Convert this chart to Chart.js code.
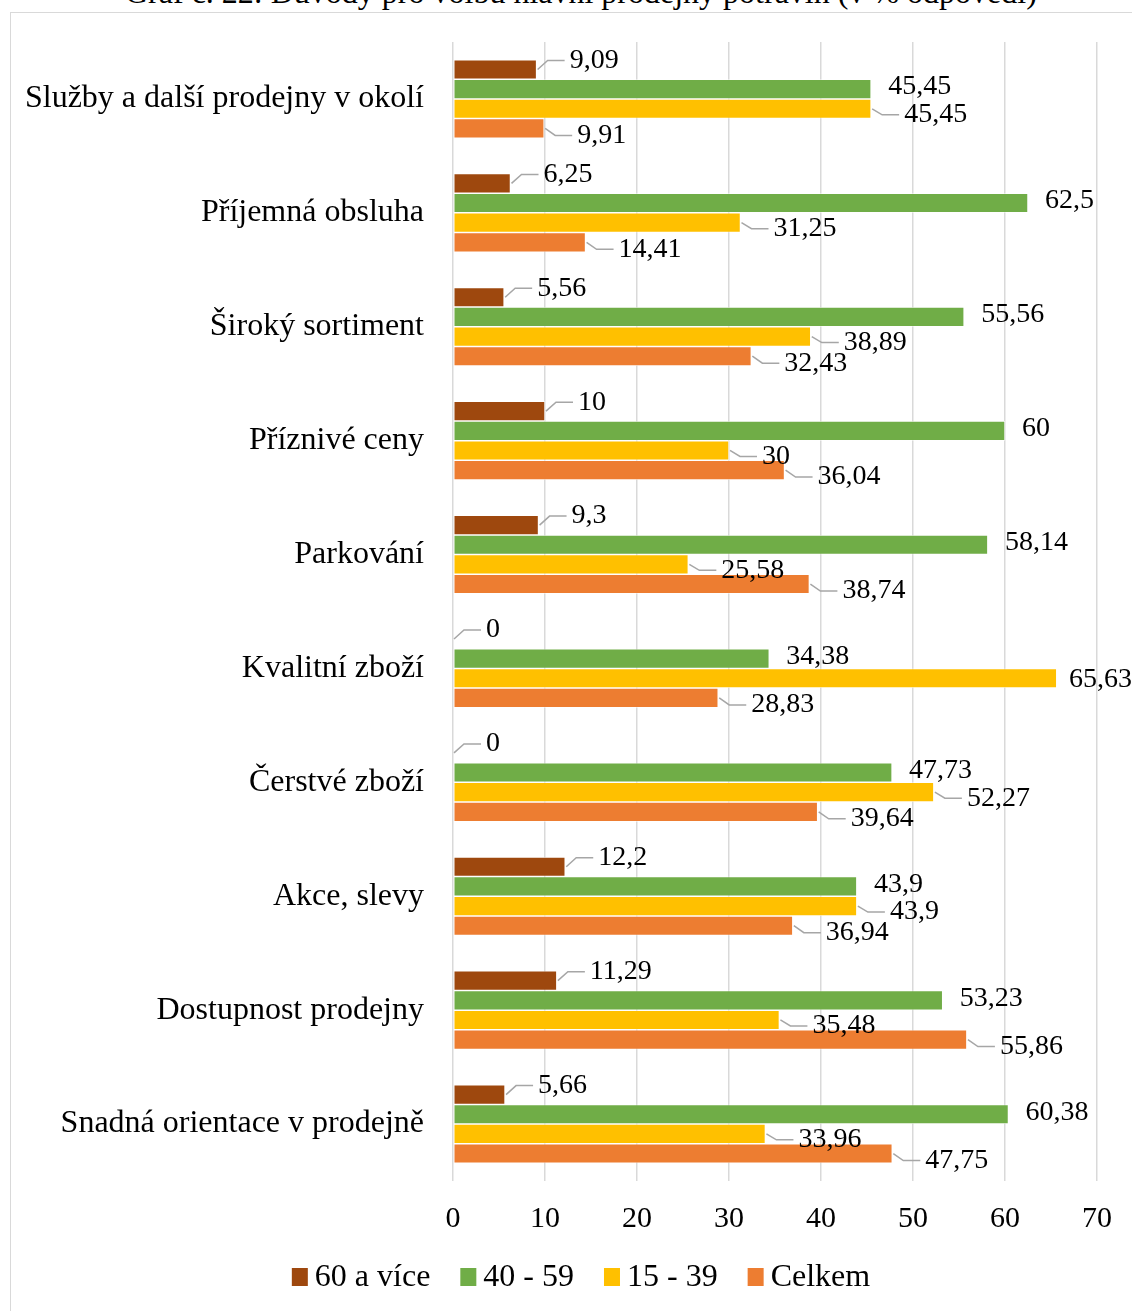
<!DOCTYPE html>
<html lang="cs">
<head>
<meta charset="utf-8">
<title>Důvody pro volbu hlavní prodejny potravin</title>
<script src="https://cdn.jsdelivr.net/npm/chart.js@4/dist/chart.umd.min.js"></script>
<style>
    html, body { margin: 0; padding: 0; background: #fff; overflow: hidden; }
    .page { position: relative; width: 1132px; height: 1311px; }
    .frame { position: absolute; left: 10px; top: 12px; width: 1200px; height: 1400px;
             border: 1.5px solid #d9d9d9; box-sizing: border-box; }
    .caption { position: absolute; left: 125px; top: -24px; margin: 0; white-space: nowrap;
               font: 32px/1 "Liberation Serif", "Times New Roman", serif; color: #000; }
    canvas { position: absolute; left: 0; top: 0; }
</style>
</head>
<body>
<div class="page">
    <div class="frame"></div>
    <p class="caption">Graf č. 22: Důvody pro volbu hlavní prodejny potravin (v % odpovědí)</p>
    <canvas id="reasons" width="1132" height="1311"></canvas>
</div>
<script>
var categories = ['Služby a další prodejny v okolí', 'Příjemná obsluha', 'Široký sortiment', 'Příznivé ceny',
    'Parkování', 'Kvalitní zboží', 'Čerstvé zboží', 'Akce, slevy', 'Dostupnost prodejny', 'Snadná orientace v prodejně'];
var age60 = [9.09, 6.25, 5.56, 10, 9.3, 0, 0, 12.2, 11.29, 5.66];
var age40 = [45.45, 62.5, 55.56, 60, 58.14, 34.38, 47.73, 43.9, 53.23, 60.38];
var age15 = [45.45, 31.25, 38.89, 30, 25.58, 65.63, 52.27, 43.9, 35.48, 33.96];
var total = [9.91, 14.41, 32.43, 36.04, 38.74, 28.83, 39.64, 36.94, 55.86, 47.75];
var xTicks = [0, 10, 20, 30, 40, 50, 60, 70];

var serif = '"Liberation Serif", "Times New Roman", serif';
Chart.defaults.font.family = serif;
Chart.defaults.color = '#000';

// value labels with short leader lines, like Excel's data callouts
var valueLabels = {
    id: 'valueLabels',
    afterDatasetsDraw: function (chart) {
        var c = chart.ctx;
        c.save();
        c.font = '28px ' + serif;
        c.textBaseline = 'middle';
        c.textAlign = 'left';
        chart.data.datasets.forEach(function (ds, i) {
            var dy = ds.labelShift || 0;
            chart.getDatasetMeta(i).data.forEach(function (bar, j) {
                var txt = String(ds.data[j]).replace('.', ',');
                var w = c.measureText(txt).width;
                var y = bar.y + dy;
                var x = bar.x + 17;
                if (Math.abs(dy) > 4) x = bar.x + 33;
                if (x + w > chart.width) {
                    // keep the label inside the canvas, no callout then
                    x = chart.width - w;
                    y = bar.y + 1;
                } else if (Math.abs(dy) > 4) {
                    c.strokeStyle = '#a6a6a6';
                    c.lineWidth = 1.5;
                    c.beginPath();
                    c.moveTo(bar.x + 1, bar.y);
                    c.lineTo(bar.x + 11, y);
                    c.lineTo(bar.x + 28, y);
                    c.stroke();
                }
                c.fillStyle = '#000';
                c.fillText(txt, x, y);
            });
        });
        c.restore();
    }
};

// compact legend row under the axis: small square, tight gap, label
var bottomLegend = {
    id: 'bottomLegend',
    afterDraw: function (chart) {
        var c = chart.ctx;
        var sets = chart.data.datasets;
        var box = 16, gap = 7, spacing = 30, midY = 1277;
        c.save();
        c.font = '32px ' + serif;
        c.textBaseline = 'middle';
        c.textAlign = 'left';
        var widths = sets.map(function (ds) { return box + gap + c.measureText(ds.label).width; });
        var full = widths.reduce(function (a, b) { return a + b; }, 0) + spacing * (sets.length - 1);
        var x = chart.width / 2 + 15 - full / 2;
        sets.forEach(function (ds, i) {
            c.fillStyle = ds.backgroundColor;
            c.fillRect(x, midY - 9, box, 18);
            c.fillStyle = '#000';
            c.fillText(ds.label, x + box + gap, midY + 1);
            x += widths[i] + spacing;
        });
        c.restore();
    }
};

var ctx = document.getElementById('reasons');
var reasonsChart = new Chart(ctx, {
    type: 'bar',
    data: {
        labels: categories,
        datasets: [{
            label: '60 a více',
            data: age60,
            backgroundColor: '#9e480e',
            labelShift: -9
        }, {
            label: '40 - 59',
            data: age40,
            backgroundColor: '#70ad47',
            labelShift: -2
        }, {
            label: '15 - 39',
            data: age15,
            backgroundColor: '#ffc000',
            labelShift: 6
        }, {
            label: 'Celkem',
            data: total,
            backgroundColor: '#ed7d31',
            labelShift: 7
        }]
    },
    options: {
        indexAxis: 'y',
        responsive: false,
        animation: false,
        datasets: {
            bar: {
                barPercentage: 1,
                categoryPercentage: 0.69,
                borderWidth: 0.75,
                borderColor: 'rgba(255,255,255,0.8)',
                borderSkipped: false
            }
        },
        layout: {
            padding: { top: 42, right: 35, bottom: 60, left: 0 }
        },
        scales: {
            x: {
                min: 0,
                max: 70,
                afterBuildTicks: function (axis) {
                    axis.ticks = xTicks.map(function (v) { return { value: v }; });
                },
                afterFit: function (axis) { axis.height = 70; },
                grid: { color: '#d9d9d9', lineWidth: 1.5, drawTicks: false },
                border: { display: false },
                ticks: { color: '#000', padding: 20, font: { family: serif, size: 30 } }
            },
            y: {
                afterFit: function (axis) {
                    axis.width = 453;
                    axis.paddingTop = 0;
                    axis.paddingBottom = 0;
                },
                grid: { display: false, drawTicks: false },
                border: { display: false },
                ticks: { color: '#000', padding: 29, font: { family: serif, size: 32 } }
            }
        },
        plugins: {
            legend: { display: false },
            tooltip: { enabled: false }
        }
    },
    plugins: [valueLabels, bottomLegend]
});
</script>
</body>
</html>
